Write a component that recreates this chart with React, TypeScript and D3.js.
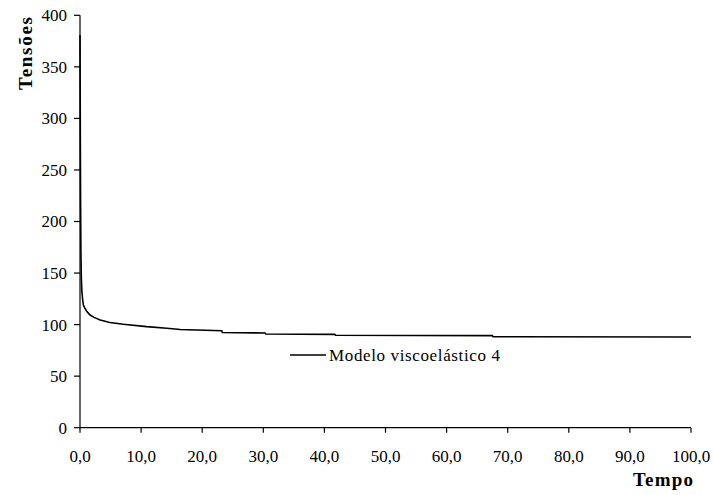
import React from "react";
import * as d3 from "d3";

// Stress relaxation curve, viscoelastic model 4
const tempo: number[] = [0, 0.03, 0.06, 0.1, 0.15, 0.22, 0.3, 0.42, 0.55, 0.8, 1.1, 1.6, 2.3, 3.3, 4.9, 7.1, 10.9, 14.2, 16.4, 23.2, 23.3, 30.3, 30.4, 41.7, 41.8, 67.5, 67.6, 100];
const tensoes: number[] = [381, 330, 270, 215, 170, 145, 133, 125, 119, 116, 113, 109.5, 107, 104.5, 102, 100.3, 98, 96.5, 95.2, 94, 92.4, 91.8, 90.9, 90.5, 89.7, 89.3, 88.3, 88];

const xTicks: number[] = [0, 10, 20, 30, 40, 50, 60, 70, 80, 90, 100];
const yTicks: number[] = [0, 50, 100, 150, 200, 250, 300, 350, 400];

const seriesName = "Modelo viscoelástico 4";
const xTitle = "Tempo";
const yTitle = "Tensões";

const W = 713;
const H = 495;
const FONT = "Liberation Serif";

export default function App() {
  const x = d3.scaleLinear().domain([0, 100]).range([80, 691]);
  const y = d3.scaleLinear().domain([0, 400]).range([427.7, 15.3]);
  const fmt = (v: number) => v.toFixed(1).replace(".", ",");

  const line = d3
    .line<number>()
    .x((_, i) => x(tempo[i]))
    .y((d) => y(d));

  const x0 = x(0);
  const y0 = y(0);

  return (
    <svg
      width={W}
      height={H}
      style={{ position: "absolute", left: 0, top: 0, background: "#fff" }}
    >
      {/* curve */}
      <path d={line(tensoes) ?? ""} fill="none" stroke="#000" strokeWidth={1.6} />

      {/* y axis */}
      <line x1={x0} x2={x0} y1={y(400)} y2={y0} stroke="#000" strokeWidth={1.2} />
      {yTicks.map((t) => (
        <g key={"y" + t}>
          <line x1={x0 - 6} x2={x0} y1={y(t)} y2={y(t)} stroke="#000" strokeWidth={1.2} />
          <text x={67} y={y(t)} dy="0.35em" textAnchor="end" fontSize={17} fontFamily={FONT} fill="#000">
            {t}
          </text>
        </g>
      ))}

      {/* x axis */}
      <line x1={x0} x2={x(100)} y1={y0} y2={y0} stroke="#000" strokeWidth={1.2} />
      {xTicks.map((t) => (
        <g key={"x" + t}>
          <line x1={x(t)} x2={x(t)} y1={y0} y2={y0 + 5} stroke="#000" strokeWidth={1.2} />
          <text x={x(t)} y={462} textAnchor="middle" fontSize={17} fontFamily={FONT} fill="#000">
            {fmt(t)}
          </text>
        </g>
      ))}

      {/* axis titles */}
      <text
        x={633}
        y={486}
        fontSize={19}
        fontWeight="bold"
        fontFamily={FONT}
        fill="#000"
        textLength={60}
        lengthAdjust="spacing"
      >
        {xTitle}
      </text>
      <text
        transform={`translate(32,90) rotate(-90)`}
        fontSize={19}
        fontWeight="bold"
        fontFamily={FONT}
        fill="#000"
        textLength={73}
        lengthAdjust="spacing"
      >
        {yTitle}
      </text>

      {/* legend */}
      <line x1={290} x2={326} y1={355} y2={355} stroke="#000" strokeWidth={1.6} />
      <text
        x={329}
        y={361}
        fontSize={17}
        fontFamily={FONT}
        fill="#000"
        textLength={171}
        lengthAdjust="spacing"
      >
        {seriesName}
      </text>
    </svg>
  );
}
